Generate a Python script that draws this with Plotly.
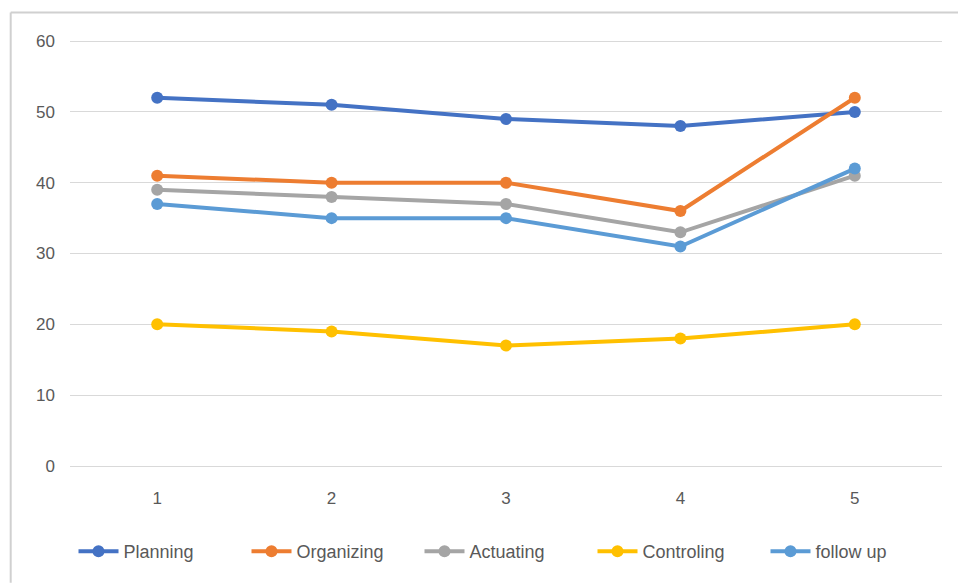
import plotly.graph_objects as go

categories = ["1", "2", "3", "4", "5"]
planning = [52, 51, 49, 48, 50]
organizing = [41, 40, 40, 36, 52]
actuating = [39, 38, 37, 33, 41]
controling = [20, 19, 17, 18, 20]
follow_up = [37, 35, 35, 31, 42]
y_ticks = [0, 10, 20, 30, 40, 50, 60]

series = [
    ("Planning", planning, "#4472C4"),
    ("Organizing", organizing, "#ED7D31"),
    ("Actuating", actuating, "#A5A5A5"),
    ("Controling", controling, "#FFC000"),
    ("follow up", follow_up, "#5B9BD5"),
]

font = "Liberation Sans Narrow, Arial Narrow, Liberation Sans, sans-serif"

fig = go.Figure()
for name, vals, color in series:
    fig.add_trace(go.Scatter(
        x=categories, y=vals, name=name, mode="lines+markers",
        line=dict(color=color, width=4),
        marker=dict(color=color, size=12),
    ))

fig.update_layout(
    width=958, height=584,
    margin=dict(l=70, r=16, t=34, b=118),
    paper_bgcolor="white", plot_bgcolor="white",
    font=dict(family=font, size=17, color="#595959"),
    showlegend=True,
    legend=dict(orientation="h", x=0.5, xanchor="center", y=-0.155, yanchor="top",
                font=dict(size=18, color="#595959"), itemwidth=40,
                entrywidth=118, entrywidthmode="pixels",
                traceorder="normal"),
    xaxis=dict(type="category", range=[-0.5, 4.5], showgrid=False, zeroline=False,
               showline=False, ticks="", ticklabelstandoff=20,
               tickfont=dict(size=17, color="#595959")),
    yaxis=dict(range=[0, 61], tickvals=y_ticks, showgrid=True, gridcolor="#D9D9D9",
               gridwidth=1, zeroline=True, zerolinecolor="#D9D9D9", zerolinewidth=1,
               showline=False, ticks="",
               ticklabelstandoff=14, tickfont=dict(size=17, color="#595959")),
    shapes=[
        dict(type="line", xref="paper", yref="paper", x0=-0.068, x1=1.02, y0=1.05, y1=1.05,
             line=dict(color="#D0D0D0", width=2)),
        dict(type="line", xref="paper", yref="paper", x0=-0.068, x1=-0.068, y0=-0.27, y1=1.05,
             line=dict(color="#D0D0D0", width=2)),
    ],
)

fig.write_html("out.html")
